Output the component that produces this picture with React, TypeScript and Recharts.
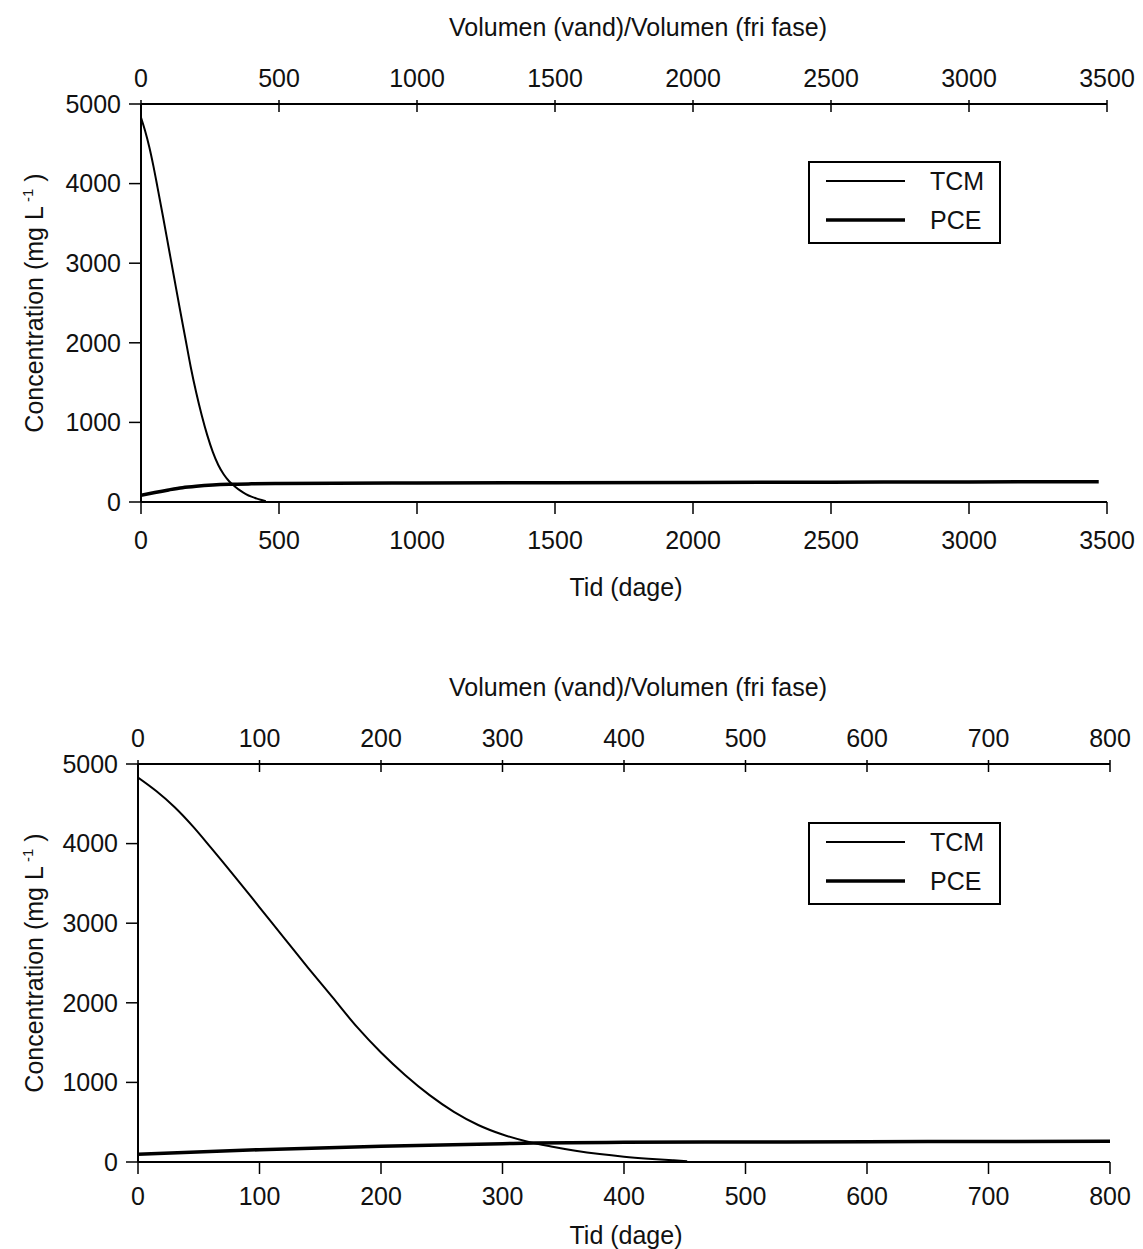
import React from 'react';
import { LineChart, Line, XAxis, YAxis, Legend } from 'recharts';

// ---- Data ----
const tcmDays = [0, 15, 30, 45, 60, 80, 100, 120, 140, 160, 180, 200, 220, 240, 260, 280, 300, 320, 340, 360, 380, 400, 420, 440, 452];
const tcmConc = [4830, 4660, 4460, 4220, 3950, 3580, 3200, 2820, 2440, 2070, 1700, 1375, 1090, 840, 630, 465, 345, 258, 195, 142, 100, 67, 42, 22, 10];

const pceDaysLong = [0, 50, 100, 150, 200, 260, 320, 400, 500, 1000, 1500, 2000, 2500, 3000, 3470];
const pceConcLong = [85, 120, 152, 180, 198, 213, 222, 228, 232, 240, 243, 246, 249, 252, 255];

const pceDaysShort = [0, 100, 200, 300, 326, 400, 500, 600, 700, 800];
const pceConcShort = [96, 155, 197, 230, 239, 247, 251, 255, 258, 262];

const xTicksLong = [0, 500, 1000, 1500, 2000, 2500, 3000, 3500];
const xTicksShort = [0, 100, 200, 300, 400, 500, 600, 700, 800];
const yTicks = [0, 1000, 2000, 3000, 4000, 5000];

const seriesNames = ['TCM', 'PCE'];
const seriesWidths = [2, 3.5];

const toPoints = (xs: number[], ys: number[]) => xs.map((x, i) => ({ x, y: ys[i] }));

const FONT = '"Liberation Sans", Arial, Helvetica, sans-serif';
const INK = '#111';
const FS = 25;

const TopTick = (props: any) => {
  const { x, y, payload } = props;
  return (
    <g>
      <line x1={x} x2={x} y1={y - 4} y2={y + 8} stroke="#000" strokeWidth={1.5} />
      <text x={x} y={y - 17.5} textAnchor="middle" fontSize={FS} fontFamily={FONT} fill={INK}>
        {payload.value}
      </text>
    </g>
  );
};

const makeLegend = () => (props: any) => {
  const payload = [...(props.payload || [])].sort(
    (a: any, b: any) => seriesNames.indexOf(a.value) - seriesNames.indexOf(b.value)
  );
  return (
    <div style={{ width: 193, height: 83, border: '2px solid #000', boxSizing: 'border-box', background: '#fff' }}>
      <svg width={189} height={79} style={{ display: 'block' }}>
        {payload.map((entry: any, i: number) => {
          const idx = seriesNames.indexOf(entry.value);
          const yy = 18 + i * 39;
          return (
            <g key={entry.value}>
              <line x1={16} x2={95} y1={yy} y2={yy} stroke="#000" strokeWidth={seriesWidths[idx]} />
              <text x={120} y={yy + 9} fontSize={FS} fontFamily={FONT} fill={INK}>
                {entry.value}
              </text>
            </g>
          );
        })}
      </svg>
    </div>
  );
};

type PanelProps = {
  width: number;
  height: number;
  leftW: number;
  rightM: number;
  plotTop: number;
  bottomH: number;
  domainMax: number;
  ticks: number[];
  pceDays: number[];
  pceConc: number[];
  bottomTickMargin: number;
  bottomTitleDy: number;
  legendTop: number;
};

const Panel = (p: PanelProps) => {
  const tcmData = toPoints(tcmDays, tcmConc);
  const pceData = toPoints(p.pceDays, p.pceConc);
  const tickStyle = { fontSize: FS, fontFamily: FONT, fill: INK };

  const bottomTitle = (lp: any) => {
    const vb = lp.viewBox;
    return (
      <text x={vb.x + vb.width / 2 + 2} y={vb.y + p.bottomTitleDy} textAnchor="middle" fontSize={FS} fontFamily={FONT} fill={INK}>
        Tid (dage)
      </text>
    );
  };
  const topTitle = (lp: any) => {
    const vb = lp.viewBox;
    return (
      <text x={vb.x + vb.width / 2 + 14} y={vb.y + vb.height - 68.5} textAnchor="middle" fontSize={FS} fontFamily={FONT} fill={INK}>
        Volumen (vand)/Volumen (fri fase)
      </text>
    );
  };
  const yTitle = (lp: any) => {
    const vb = lp.viewBox;
    const cx = vb.x + 43;
    const cy = vb.y + vb.height / 2;
    return (
      <text x={cx} y={cy} transform={`rotate(-90, ${cx}, ${cy})`} textAnchor="middle" fontSize={FS} fontFamily={FONT} fill={INK}>
        <tspan>Concentration (mg L</tspan>
        <tspan dy={-10} fontSize={15}> -1</tspan>
        <tspan dy={10}> )</tspan>
      </text>
    );
  };

  return (
    <LineChart
      width={p.width}
      height={p.height}
      margin={{ top: 0, right: p.rightM, bottom: 0, left: 0 }}
    >
      <XAxis
        xAxisId="b"
        dataKey="x"
        type="number"
        orientation="bottom"
        domain={[0, p.domainMax]}
        ticks={p.ticks}
        allowDataOverflow
        height={p.bottomH}
        tickSize={12}
        tickMargin={p.bottomTickMargin}
        tick={tickStyle}
        axisLine={{ stroke: '#000', strokeWidth: 2 }}
        tickLine={{ stroke: '#000', strokeWidth: 1.5 }}
        label={{ content: bottomTitle }}
      />
      <XAxis
        xAxisId="t"
        dataKey="x"
        type="number"
        orientation="top"
        domain={[0, p.domainMax]}
        ticks={p.ticks}
        allowDataOverflow
        height={p.plotTop}
        tickSize={0}
        tickMargin={0}
        tick={<TopTick />}
        tickLine={false}
        axisLine={{ stroke: '#000', strokeWidth: 2 }}
        label={{ content: topTitle }}
      />
      <YAxis
        yAxisId="l"
        type="number"
        domain={[0, 5000]}
        ticks={yTicks}
        width={p.leftW}
        tickSize={12}
        tickMargin={8}
        tick={tickStyle}
        axisLine={{ stroke: '#000', strokeWidth: 2 }}
        tickLine={{ stroke: '#000', strokeWidth: 1.5 }}
        label={{ content: yTitle }}
      />
      <YAxis
        yAxisId="r"
        orientation="right"
        type="number"
        domain={[0, 5000]}
        width={0}
        tick={false}
        tickLine={false}
        axisLine={{ stroke: '#000', strokeWidth: 2 }}
      />
      <Legend
        layout="vertical"
        align="center"
        verticalAlign="middle"
        content={makeLegend()}
        wrapperStyle={{ left: 808, top: p.legendTop, width: 193, height: 83 }}
      />
      <Line
        xAxisId="b"
        yAxisId="l"
        data={tcmData}
        dataKey="y"
        name={seriesNames[0]}
        type="monotone"
        stroke="#000"
        strokeWidth={seriesWidths[0]}
        dot={false}
        isAnimationActive={false}
      />
      <Line
        xAxisId="b"
        yAxisId="l"
        data={pceData}
        dataKey="y"
        name={seriesNames[1]}
        type="monotone"
        stroke="#000"
        strokeWidth={seriesWidths[1]}
        dot={false}
        isAnimationActive={false}
      />
    </LineChart>
  );
};

export default function App() {
  return (
    <div style={{ position: 'absolute', left: 0, top: 0, width: 1143, height: 1249, background: '#fff' }}>
      <div style={{ position: 'absolute', left: 0, top: 0 }}>
        <Panel
          width={1143}
          height={640}
          leftW={141}
          rightM={36}
          plotTop={104}
          bottomH={138}
          domainMax={3500}
          ticks={xTicksLong}
          pceDays={pceDaysLong}
          pceConc={pceConcLong}
          bottomTickMargin={17}
          bottomTitleDy={94}
          legendTop={161}
        />
      </div>
      <div style={{ position: 'absolute', left: 0, top: 660 }}>
        <Panel
          width={1143}
          height={589}
          leftW={138}
          rightM={33}
          plotTop={104}
          bottomH={87}
          domainMax={800}
          ticks={xTicksShort}
          pceDays={pceDaysShort}
          pceConc={pceConcShort}
          bottomTickMargin={13}
          bottomTitleDy={82}
          legendTop={162}
        />
      </div>
    </div>
  );
}
